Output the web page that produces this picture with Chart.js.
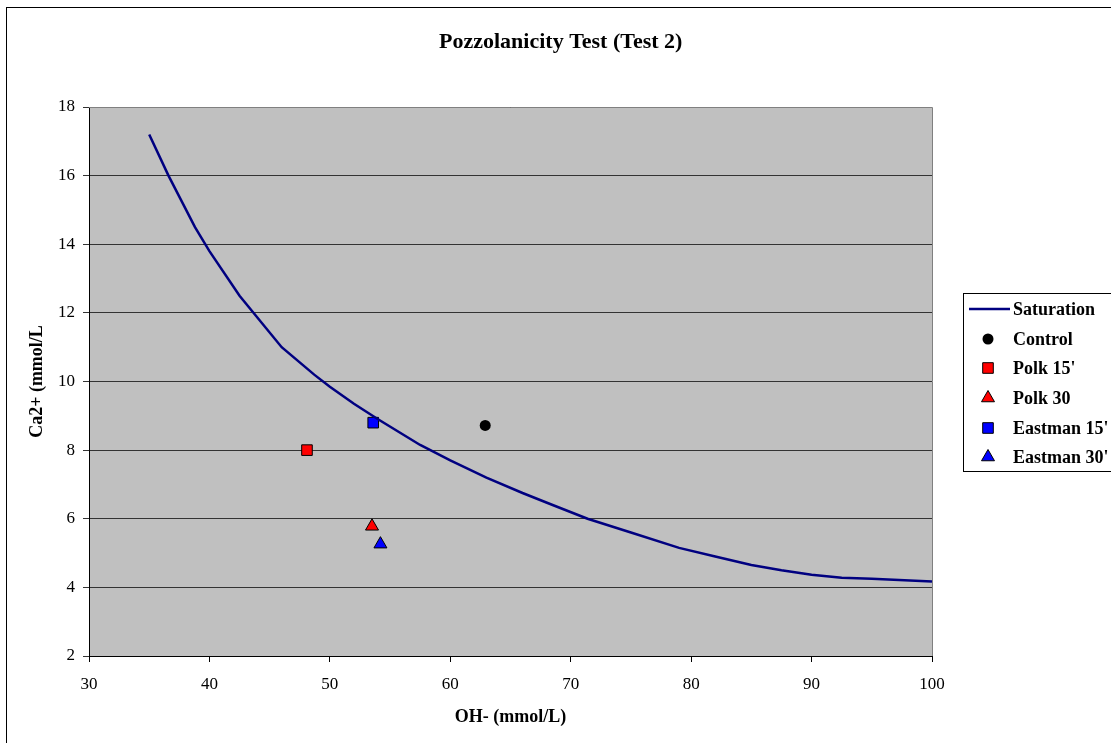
<!DOCTYPE html>
<html>
<head>
<meta charset="utf-8">
<title>Pozzolanicity Test (Test 2)</title>
<script src="https://cdn.jsdelivr.net/npm/chart.js@4.4.1/dist/chart.umd.min.js"></script>
<style>
  html, body { margin: 0; padding: 0; background: #fff; }
  canvas { display: block; }
</style>
</head>
<body>
<canvas id="chart" width="1111" height="743"></canvas>
<script>
// saturation curve
const satOH = [35, 36.6, 38.8, 40, 42.5, 46, 48.7, 50, 52, 54, 57.5, 60, 63, 66, 68.5, 71.4, 75, 79, 82, 85, 87.5, 90, 92.5, 95, 100];
const satCa = [17.2, 16.0, 14.5, 13.8, 12.5, 11.0, 10.2, 9.85, 9.35, 8.9, 8.15, 7.7, 7.2, 6.75, 6.4, 6.0, 5.6, 5.15, 4.9, 4.65, 4.5, 4.37, 4.28, 4.25, 4.17];

// test samples
const sampleNames = ['Control', "Polk 15'", 'Polk 30', "Eastman 15'", "Eastman 30'"];
const sampleOH = [62.9, 48.1, 53.5, 53.6, 54.2];
const sampleCa = [8.72, 8.0, 5.78, 8.8, 5.26];
const sampleColors = ['#000000', '#FF0000', '#FF0000', '#0000FF', '#0000FF'];
const sampleShapes = ['circle', 'rect', 'triangle', 'rect', 'triangle'];
const sampleSizes = [5.5, 7.5, 7.5, 7.5, 7.5];

const xTicks = [30, 40, 50, 60, 70, 80, 90, 100];
const yTicks = [2, 4, 6, 8, 10, 12, 14, 16, 18];

const serif = '"Liberation Serif", "DejaVu Serif", serif';

const datasets = [{
  label: 'Saturation',
  data: satOH.map((x, i) => ({ x: x, y: satCa[i] })),
  showLine: true,
  borderColor: '#000080',
  backgroundColor: '#000080',
  borderWidth: 2.5,
  pointRadius: 0,
  tension: 0
}];
sampleNames.forEach((name, i) => {
  datasets.push({
    label: name,
    data: [{ x: sampleOH[i], y: sampleCa[i] }],
    pointStyle: sampleShapes[i],
    pointRadius: sampleSizes[i],
    backgroundColor: sampleColors[i],
    borderColor: '#000000',
    borderWidth: sampleShapes[i] === 'circle' ? 0 : 1
  });
});

// grey plot background, outer frame, titles and legend
const framePlugin = {
  id: 'frame',
  beforeDraw(chart) {
    const c = chart.ctx, a = chart.chartArea;
    c.save();
    c.fillStyle = '#fff';
    c.fillRect(0, 0, chart.width, chart.height);
    c.strokeStyle = '#000';
    c.lineWidth = 1;
    c.strokeRect(6.5, 7.5, chart.width + 10, chart.height + 10);
    c.fillStyle = '#C0C0C0';
    c.fillRect(a.left, a.top, a.right - a.left, a.bottom - a.top);
    c.restore();
  },
  afterDatasetsDraw(chart) {
    const c = chart.ctx, a = chart.chartArea;
    c.save();
    c.strokeStyle = '#808080';
    c.lineWidth = 1;
    c.beginPath();
    c.moveTo(a.left, a.top + 0.5);
    c.lineTo(a.right + 0.5, a.top + 0.5);
    c.lineTo(a.right + 0.5, a.bottom);
    c.stroke();
    c.restore();
  },
  afterDraw(chart) {
    const c = chart.ctx, a = chart.chartArea;
    c.save();
    c.fillStyle = '#000';
    c.textAlign = 'left';
    c.textBaseline = 'middle';
    c.font = 'bold 22px ' + serif;
    c.fillText('Pozzolanicity Test (Test 2)', 439, 42);
    c.textAlign = 'center';
    c.font = 'bold 18px ' + serif;
    c.fillText('OH- (mmol/L)', (a.left + a.right) / 2, 717);
    c.save();
    c.translate(37, (a.top + a.bottom) / 2);
    c.rotate(-Math.PI / 2);
    c.fillText('Ca2+ (mmol/L', 0, 0);
    c.restore();

    // legend
    const lx = 963.5, ly = 293.5;
    c.fillStyle = '#fff';
    c.fillRect(lx, ly, 160, 178);
    c.strokeStyle = '#000';
    c.lineWidth = 1;
    c.strokeRect(lx, ly, 160, 178);
    c.textAlign = 'left';
    c.font = 'bold 18px ' + serif;
    const rowY = [309, 339, 368, 398, 428, 457];
    chart.data.datasets.forEach((ds, i) => {
      const y = rowY[i];
      if (i === 0) {
        c.strokeStyle = ds.borderColor;
        c.lineWidth = 2.5;
        c.beginPath();
        c.moveTo(969, y);
        c.lineTo(1010, y);
        c.stroke();
      } else {
        c.fillStyle = ds.backgroundColor;
        c.strokeStyle = ds.borderColor;
        c.lineWidth = ds.borderWidth;
        Chart.helpers.drawPoint(c, {
          pointStyle: ds.pointStyle,
          radius: ds.pointRadius,
          rotation: 0,
          borderWidth: ds.borderWidth
        }, 988, y);
      }
      c.fillStyle = '#000';
      c.fillText(ds.label, 1013, y + 1);
    });
    c.restore();
  }
};

new Chart(document.getElementById('chart'), {
  type: 'scatter',
  data: { datasets: datasets },
  options: {
    responsive: false,
    animation: false,
    devicePixelRatio: 1,
    layout: { padding: { top: 107, left: 0, right: 179, bottom: 0 } },
    plugins: {
      legend: { display: false },
      tooltip: { enabled: false },
      title: { display: false }
    },
    scales: {
      x: {
        type: 'linear',
        min: 30,
        max: 100,
        afterFit(scale) { scale.height = 87; },
        afterBuildTicks(scale) { scale.ticks = xTicks.map(v => ({ value: v })); },
        ticks: {
          color: '#000',
          font: { family: serif, size: 17 },
          padding: 12,
          maxRotation: 0
        },
        grid: { drawOnChartArea: false, drawTicks: true, tickLength: 6, color: '#000' },
        border: { color: '#000', width: 1 }
      },
      y: {
        type: 'linear',
        min: 2,
        max: 18,
        afterFit(scale) { scale.width = 89; },
        afterBuildTicks(scale) { scale.ticks = yTicks.map(v => ({ value: v })); },
        ticks: {
          color: '#000',
          font: { family: serif, size: 17 },
          padding: 8
        },
        grid: { color: '#333', lineWidth: 1, tickLength: 6 },
        border: { color: '#000', width: 1 }
      }
    }
  },
  plugins: [framePlugin]
});
</script>
</body>
</html>
